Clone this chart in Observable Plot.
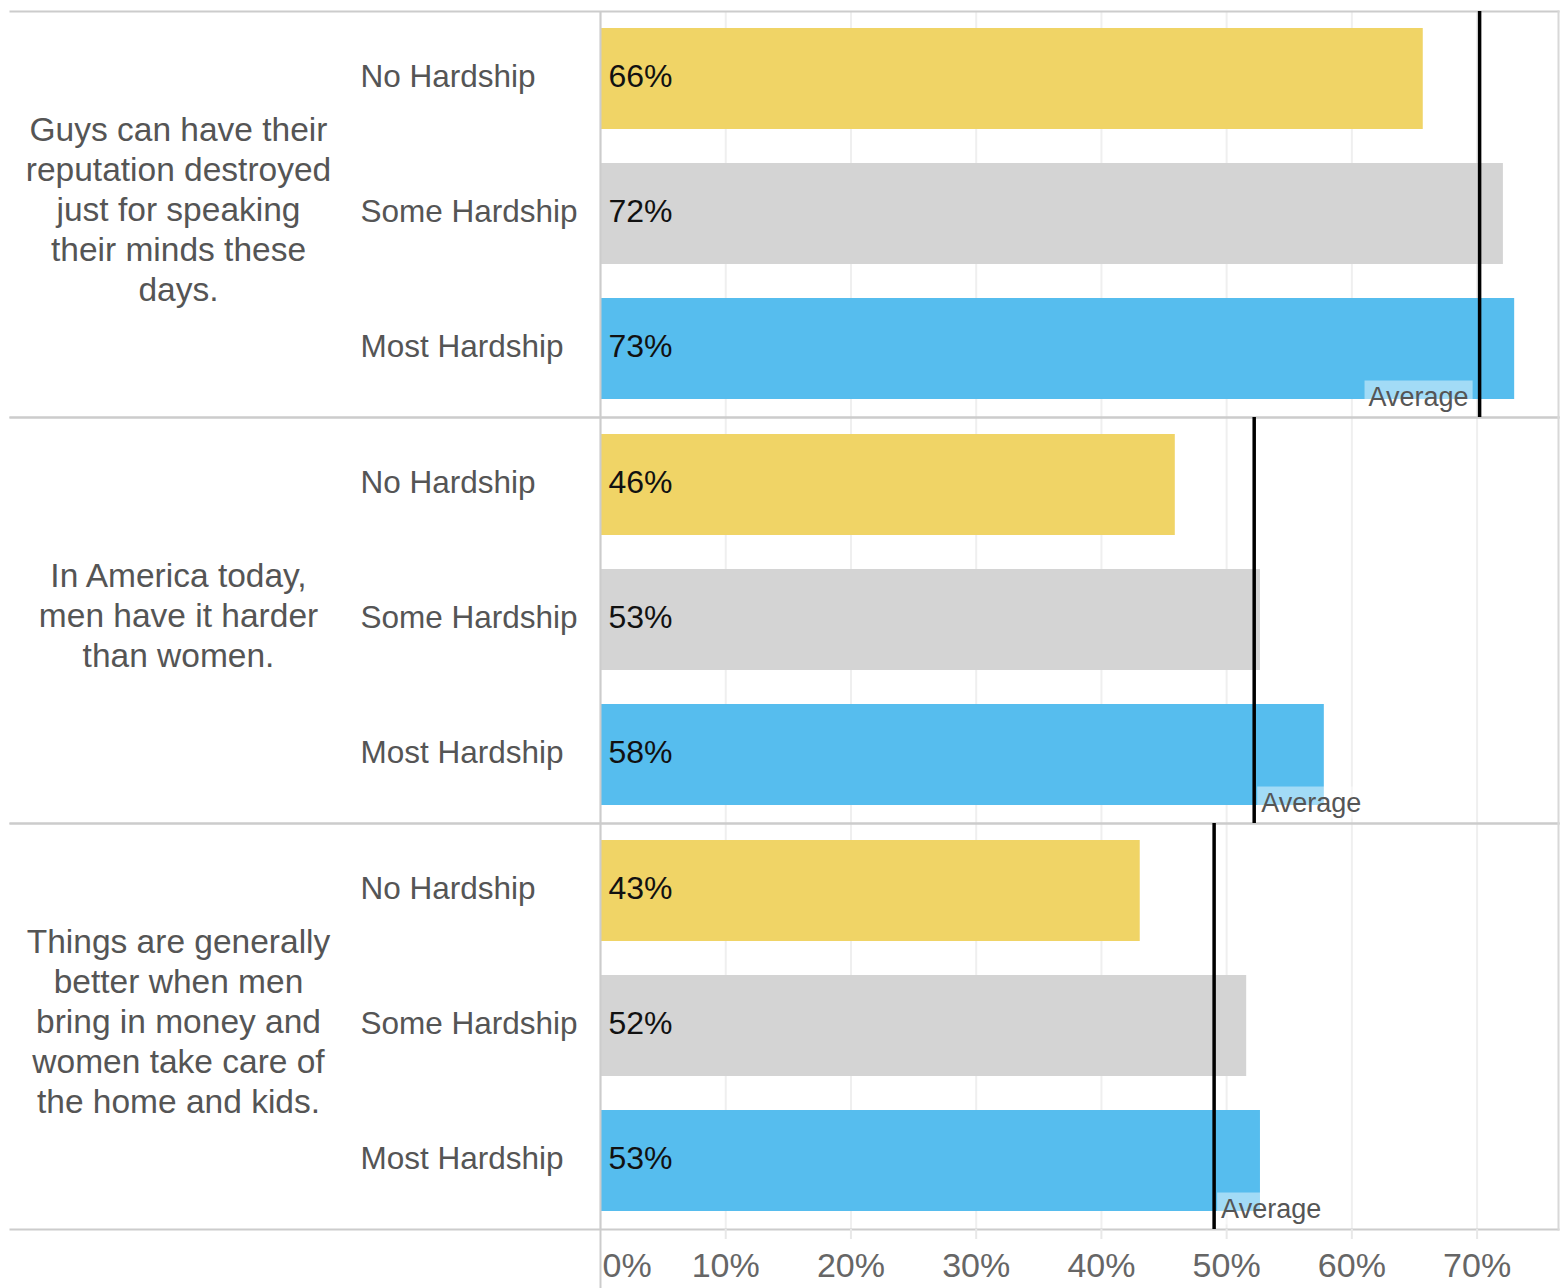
<!DOCTYPE html>
<html><head><meta charset="utf-8">
<script src="https://cdn.jsdelivr.net/npm/d3@7"></script>
<script src="https://cdn.jsdelivr.net/npm/@observablehq/plot@0.6"></script>
<style>
body{margin:0;background:#fff;}
svg{font-family:"Liberation Sans", Arial, Helvetica, sans-serif;}
</style>
</head><body><div id="chart"></div>
<script>
const statements = [
  "Guys can have their\nreputation destroyed\njust for speaking\ntheir minds these\ndays.",
  "In America today,\nmen have it harder\nthan women.",
  "Things are generally\nbetter when men\nbring in money and\nwomen take care of\nthe home and kids."
];
const hardships = ["No Hardship", "Some Hardship", "Most Hardship"];
const noHardship = [0.657, 0.459, 0.431];
const someHardship = [0.721, 0.527, 0.516];
const mostHardship = [0.730, 0.578, 0.527];
const averages = [0.702, 0.522, 0.490];
const colors = ["#F0D466", "#D4D4D4", "#56BDEE"];
const xTicks = [0, 0.1, 0.2, 0.3, 0.4, 0.5, 0.6, 0.7];
const averageLabel = "Average";

const series = [noHardship, someHardship, mostHardship];
const rows = statements.flatMap((s, i) => hardships.map((h, j) => ({statement: s, hardship: h, value: series[j][i]})));
const avgRows = statements.map((s, i) => ({statement: s, avg: averages[i], label: averageLabel}));
const pct = d3.format(".0%");

const chart = Plot.plot({
  width: 1564,
  height: 1288,
  marginLeft: 10,
  marginRight: 6,
  marginTop: 10,
  marginBottom: 59,
  x: {domain: [0, 0.765], range: [600, 1558], axis: null},
  y: {domain: hardships, paddingInner: 0.25, paddingOuter: 0.125, axis: null},
  fy: {domain: statements, padding: 0, axis: null},
  color: {domain: hardships, range: colors},
  marks: [
    Plot.gridX(xTicks, {stroke: "#efefef", strokeOpacity: 1, strokeWidth: 2}),
    Plot.barX(rows, {fy: "statement", y: "hardship", x: "value", fill: "hardship"}),
    Plot.text(rows, {fy: "statement", y: "hardship", x: d => 0, text: d => pct(d.value),
      textAnchor: "start", dx: 8, dy: -2, fontSize: 32, fill: "#111"}),
    Plot.text(rows, {fy: "statement", y: "hardship", frameAnchor: "left", text: "hardship",
      textAnchor: "start", dx: 350, dy: -2, fontSize: 31.5, fill: "#555"}),
    Plot.text(avgRows, {fy: "statement", frameAnchor: "left", text: "statement",
      textAnchor: "middle", dx: 168, dy: -6, fontSize: 33.5, lineHeight: 40 / 33.5, fill: "#555"}),
    Plot.ruleX([0], {stroke: "#ccc", strokeWidth: 2}),
    Plot.frame({anchor: "top", stroke: "#ccc", strokeWidth: 2}),
    Plot.frame({anchor: "bottom", stroke: "#ccc", strokeWidth: 2}),
    Plot.frame({anchor: "right", stroke: "#d8d8d8", strokeWidth: 2}),
    Plot.ruleX(avgRows, {fy: "statement", x: "avg", stroke: "#000", strokeWidth: 3.5}),
    Plot.text(avgRows.filter(d => d.avg > 0.65), {fy: "statement", x: "avg", frameAnchor: "bottom", text: "label",
      textAnchor: "end", lineAnchor: "bottom", dx: -11, dy: -12, fontSize: 27, fill: "#555"}),
    Plot.text(avgRows.filter(d => d.avg <= 0.65), {fy: "statement", x: "avg", frameAnchor: "bottom", text: "label",
      textAnchor: "start", lineAnchor: "bottom", dx: 7, dy: -12, fontSize: 27, fill: "#555"}),
    Plot.axisX([0], {anchor: "bottom", tickSize: 59, stroke: "#ccc", strokeWidth: 2, tickFormat: () => ""}),
    Plot.axisX([0], {anchor: "bottom", tickSize: 0, tickPadding: 23, textAnchor: "start", dx: 2,
      tickFormat: pct, fontSize: 34, fill: "#666"}),
    Plot.axisX(xTicks.slice(1), {anchor: "bottom", tickSize: 10, tickPadding: 13, stroke: "#e8e8e8", strokeWidth: 2,
      tickFormat: pct, fontSize: 34, fill: "#666"})
  ]
});
document.getElementById("chart").append(chart);

// light translucent box behind each "Average" label
const svgns = "http://www.w3.org/2000/svg";
chart.querySelectorAll("text").forEach(t => {
  if (t.textContent !== averageLabel) return;
  const b = t.getBBox();
  const r = document.createElementNS(svgns, "rect");
  r.setAttribute("x", b.x - 4);
  r.setAttribute("y", b.y - 1);
  r.setAttribute("width", b.width + 8);
  r.setAttribute("height", b.height + 2);
  r.setAttribute("fill", "#fff");
  r.setAttribute("fill-opacity", 0.45);
  if (t.getAttribute("transform")) r.setAttribute("transform", t.getAttribute("transform"));
  t.parentNode.insertBefore(r, t);
});
</script>
</body></html>
